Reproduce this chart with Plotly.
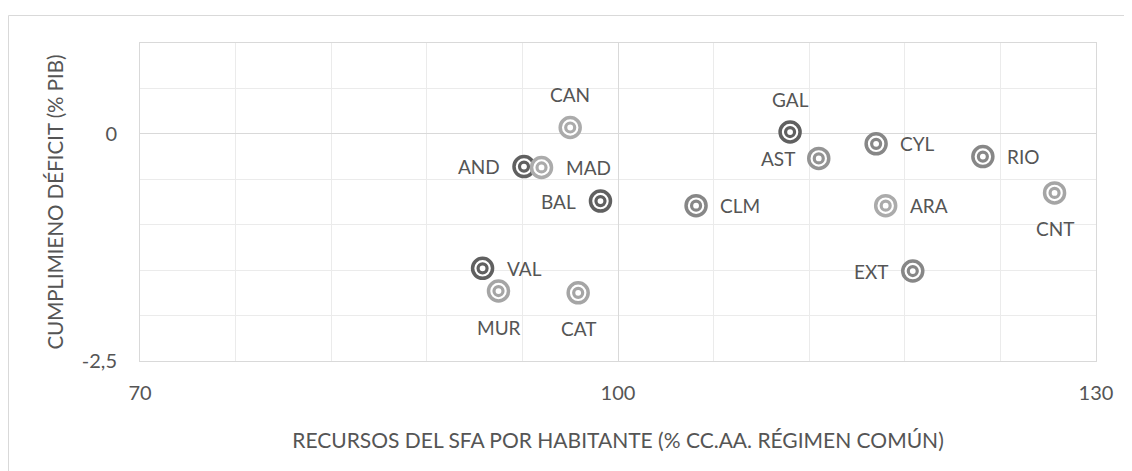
import plotly.graph_objects as go

# ---- data ----
regions = ["AND", "ARA", "AST", "BAL", "CAN", "CNT", "CYL", "CLM",
           "CAT", "VAL", "EXT", "GAL", "MAD", "MUR", "RIO"]
recursos = [94.1, 116.8, 112.6, 98.9, 97.0, 127.4, 116.2, 104.9,
            97.5, 91.5, 118.5, 110.8, 95.2, 92.5, 122.9]
deficit = [-0.36, -0.79, -0.27, -0.74, 0.07, -0.65, -0.11, -0.79,
           -1.75, -1.48, -1.51, 0.02, -0.37, -1.73, -0.25]

x_tickvals = [70, 100, 130]
x_ticktext = ["70", "100", "130"]
y_tickvals = [-2.5, 0]
y_ticktext = ["-2,5", "0"]

x_title = "RECURSOS DEL SFA POR HABITANTE (% CC.AA. RÉGIMEN COMÚN)"
y_title = "CUMPLIMIENO DÉFICIT (% PIB)"

# ---- styles ----
DARK, MED, LIGHT = "#606060", "#878787", "#ababab"
color_of = {"AND": DARK, "BAL": DARK, "GAL": DARK, "VAL": DARK,
            "CYL": MED, "RIO": MED, "CLM": MED, "EXT": MED, "AST": "#949494",
            "CAN": LIGHT, "MAD": LIGHT, "MUR": "#a5a5a5", "CAT": "#a5a5a5",
            "ARA": LIGHT, "CNT": "#a5a5a5"}
label_pos = {"AND": "left", "ARA": "right", "AST": "left", "BAL": "left",
             "CAN": "top", "CNT": "bottom", "CYL": "right", "CLM": "right",
             "CAT": "bottom", "VAL": "right", "EXT": "left", "GAL": "top",
             "MAD": "right", "MUR": "bottom", "RIO": "right"}

FONT = "Lato, 'Open Sans', sans-serif"
TXT = "#555555"

colors = [color_of[r] for r in regions]

fig = go.Figure()
fig.add_trace(go.Scatter(
    x=recursos, y=deficit, mode="markers", hoverinfo="skip",
    marker=dict(size=20, color="white", line=dict(color=colors, width=3.5)),
    showlegend=False))
fig.add_trace(go.Scatter(
    x=recursos, y=deficit, mode="markers", text=regions,
    hovertemplate="%{text}: %{x}, %{y}<extra></extra>",
    marker=dict(size=9, color="white", line=dict(color=colors, width=3.2)),
    showlegend=False))

annotations = []
for r, xv, yv in zip(regions, recursos, deficit):
    p = label_pos[r]
    a = dict(x=xv, y=yv, xref="x", yref="y", text=r, showarrow=False,
             font=dict(family=FONT, size=19, color=TXT), borderpad=0)
    if p == "left":
        a.update(xanchor="right", yanchor="middle", xshift=-23)
    elif p == "right":
        a.update(xanchor="left", yanchor="middle", xshift=23)
    elif p == "top":
        a.update(xanchor="center", yanchor="middle", yshift=33)
    else:
        a.update(xanchor="center", yanchor="middle", yshift=-36)
    annotations.append(a)

# figure is placed 8px in from the page edges by the browser body margin
W, H = 1124, 463
L, R, T, B = 132, 36, 35, 110
pw, ph = W - L - R, H - T - B

fig.update_layout(
    width=W, height=H, autosize=False,
    margin=dict(l=L, r=R, t=T, b=B, pad=0),
    paper_bgcolor="white", plot_bgcolor="white",
    font=dict(family=FONT, size=20, color=TXT),
    annotations=annotations,
    shapes=[dict(type="rect", xref="paper", yref="paper",
                 x0=(0.5 - L) / pw, x1=(W + 20 - L) / pw,
                 y0=-(H + 20 - (H - B)) / ph, y1=(H - B - 7.5) / ph,
                 line=dict(color="#d9d9d9", width=1), fillcolor="rgba(0,0,0,0)",
                 layer="below")],
    xaxis=dict(range=[70, 130], tickmode="array", tickvals=x_tickvals,
               ticktext=x_ticktext, showgrid=True, gridcolor="#d9d9d9",
               gridwidth=1, zeroline=False, showline=True, linecolor="#d9d9d9",
               mirror=True, ticks="", ticklabelstandoff=14,
               minor=dict(tickmode="linear", tick0=70, dtick=6, showgrid=True,
                          gridcolor="#ebebeb", gridwidth=1),
               title=dict(text=x_title, standoff=30,
                          font=dict(family=FONT, size=21, color=TXT)),
               fixedrange=True),
    yaxis=dict(range=[-2.5, 1.0], tickmode="array", tickvals=y_tickvals,
               ticktext=y_ticktext, showgrid=True, gridcolor="#d9d9d9",
               gridwidth=1, zeroline=False, showline=True, linecolor="#d9d9d9",
               mirror=True, ticks="", ticklabelstandoff=18,
               minor=dict(tickmode="linear", tick0=0, dtick=0.5, showgrid=True,
                          gridcolor="#ebebeb", gridwidth=1),
               title=dict(text=y_title, standoff=12,
                          font=dict(family=FONT, size=20.5, color=TXT)),
               fixedrange=True),
)

fig.write_html("out.html")
